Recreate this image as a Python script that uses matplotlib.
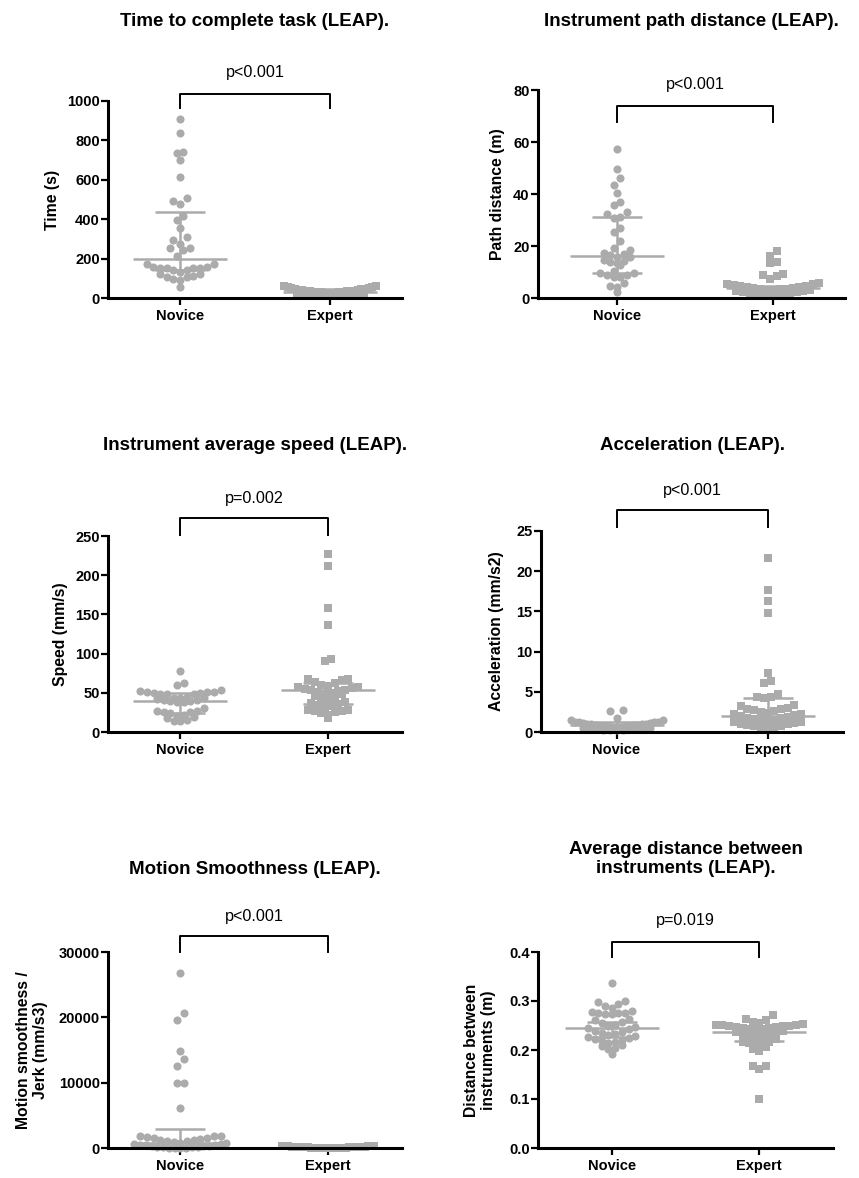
import numpy as np
import matplotlib.pyplot as plt
from matplotlib.transforms import blended_transform_factory

plt.rcParams['font.family'] = ['Liberation Sans', 'DejaVu Sans']

W, H = 859, 1178
GREY = '#ababab'

groups = ['Novice', 'Expert']

# --- time to complete task (s)
time_novice = [908, 840, 742, 738, 700, 616, 506, 491, 476, 418, 395, 357, 310, 295,
               274, 252, 252, 246, 215, 171, 171, 159, 159, 154, 154, 151, 151, 144,
               144, 134, 120, 120, 112, 108, 108, 95, 91, 57]
time_expert = [62, 60, 57, 55, 52, 50, 48, 46, 44, 42, 40, 39, 37, 36, 35, 34, 33, 32,
               31, 30, 29, 28, 27, 26, 25, 24, 23, 22, 21, 20, 19, 18, 17, 15, 14, 12, 10]
time_med = [196, 32]
time_q1 = [140, 22]
time_q3 = [435, 45]

# --- path distance (m)
path_novice = [57.5, 49.6, 46.3, 43.5, 40.3, 36.8, 35.8, 33.0, 32.2, 31.0, 30.8, 26.8,
               25.5, 22.0, 19.4, 18.5, 17.2, 16.8, 16.5, 15.9, 15.6, 14.6, 14.2, 14.0,
               13.6, 12.7, 10.4, 9.5, 9.5, 9.0, 8.8, 8.2, 8.0, 5.6, 4.7, 4.4, 2.4]
path_expert = [18.1, 16.3, 13.8, 13.6, 9.2, 8.8, 8.6, 7.2, 5.8, 5.5, 5.2, 5.0, 4.8, 4.6,
               4.4, 4.2, 4.0, 3.8, 3.6, 3.5, 3.4, 3.2, 3.0, 2.9, 2.8, 2.6, 2.4, 2.2, 2.0,
               1.8, 1.6, 1.4, 1.2, 1.0, 0.8]
path_med = [16.2, 3.7]
path_q1 = [9.7, 2.2]
path_q3 = [31.3, 4.8]

# --- average speed (mm/s)
speed_novice = [77.8, 62.9, 60.0, 53.0, 52.0, 51.5, 51.0, 50.5, 50.0, 49.5, 49.0, 48.5,
                48.0, 45.0, 44.0, 43.5, 43.0, 42.5, 41.0, 40.5, 40.0, 39.0, 38.5, 38.0,
                30.2, 27.0, 26.5, 26.0, 25.5, 24.5, 22.0, 21.0, 19.6, 17.5, 15.5, 14.0, 14.0]
speed_expert = [226.6, 211.7, 157.8, 136.5, 93.1, 91.0, 68, 67, 66, 64, 62, 60, 59, 58,
                57, 56, 55, 54, 53, 52, 51, 50, 49, 48, 46, 44, 42, 40, 38, 37, 36, 35,
                33, 32, 28, 28, 27, 27, 26, 24, 22, 17.5]
speed_med = [39.5, 54]
speed_q1 = [23.8, 36]
speed_q3 = [50, 62]

# --- acceleration (mm/s2)
acc_novice = [2.7, 2.6, 1.8, 1.5, 1.5, 1.3, 1.3, 1.2, 1.2, 1.1, 1.1, 1.05, 1.0, 1.0,
              0.95, 0.9, 0.9, 0.85, 0.8, 0.8, 0.75, 0.7, 0.7, 0.65, 0.6, 0.6, 0.55, 0.5,
              0.5, 0.45, 0.4, 0.4, 0.35, 0.3, 0.3, 0.25, 0.2]
acc_expert = [21.6, 17.6, 16.3, 14.8, 7.4, 6.3, 6.1, 4.7, 4.3, 4.3, 4.2, 3.3, 3.2, 3.0,
              2.9, 2.8, 2.7, 2.6, 2.5, 2.4, 2.3, 2.2, 2.1, 2.0, 1.9, 1.8, 1.7, 1.6, 1.5,
              1.45, 1.4, 1.3, 1.2, 1.1, 1.0, 0.95, 0.9, 0.8, 0.7, 0.6, 0.5, 0.4]
acc_med = [0.87, 2.0]
acc_q1 = [0.5, 1.1]
acc_q3 = [1.2, 4.2]

# --- jerk (mm/s3)
jerk_novice = [26740, 20610, 19590, 14900, 13620, 12600, 9950, 9900, 6170, 1900, 1880,
               1800, 1700, 1600, 1500, 1400, 1300, 1200, 1100, 1000, 900, 820, 740, 660,
               590, 520, 460, 400, 350, 300, 250, 210, 170, 130, 100, 70, 45, 25, 10]
jerk_expert = [350, 320, 300, 280, 260, 240, 220, 200, 185, 170, 155, 140, 130, 120, 110,
               100, 90, 80, 70, 60, 50, 45, 40, 35, 30, 25, 20, 15, 10, 5]
jerk_med = [720, 100]
jerk_q1 = [150, 40]
jerk_q3 = [2860, 220]

# --- distance between instruments (m)
dist_novice = [0.336, 0.300, 0.297, 0.293, 0.290, 0.286, 0.280, 0.278, 0.276, 0.275,
               0.274, 0.275, 0.273, 0.263, 0.262, 0.258, 0.256, 0.252, 0.249, 0.246,
               0.244, 0.242, 0.238, 0.236, 0.235, 0.232, 0.231, 0.229, 0.226, 0.224,
               0.222, 0.221, 0.219, 0.217, 0.214, 0.210, 0.208, 0.204, 0.202, 0.191]
dist_expert = [0.271, 0.263, 0.262, 0.258, 0.256, 0.254, 0.252, 0.252, 0.251, 0.250,
               0.249, 0.248, 0.247, 0.246, 0.245, 0.244, 0.243, 0.242, 0.240, 0.238,
               0.236, 0.234, 0.232, 0.230, 0.228, 0.226, 0.224, 0.222, 0.217, 0.216,
               0.214, 0.212, 0.208, 0.206, 0.203, 0.198, 0.168, 0.167, 0.161, 0.101]
dist_med = [0.244, 0.236]
dist_q1 = [0.227, 0.218]
dist_q3 = [0.258, 0.247]


def spread(vals, px_per_y, px_per_x, row_px=7.5, step_px=6.7, max_px=92):
    # prism-like rows: group from the top, spread each row sideways
    vals = np.asarray(vals, float)
    order = np.argsort(-vals)
    off = np.zeros(len(vals))
    rows, cur, start = [], [], None
    for i in order:
        p = vals[i] * px_per_y
        if start is None or start - p < row_px:
            if start is None:
                start = p
            cur.append(i)
        else:
            rows.append(cur)
            cur, start = [i], p
    rows.append(cur)
    for idx in rows:
        idx = np.array(idx)
        idx = idx[np.argsort(vals[idx], kind='stable')]
        n = len(idx)
        step = step_px if n < 2 else min(step_px, max_px / (n - 1))
        slots = (np.arange(n) - (n - 1) / 2) * step
        slots = slots[np.argsort(np.abs(slots), kind='stable')]
        off[idx] = slots / px_per_x
    return off


panels = [
    dict(rect=(108, 101, 402, 298), xlim=(-0.48, 1.48), ylim=1000, step=200,
         data=(time_novice, time_expert), med=time_med, q1=time_q1, q3=time_q3,
         title='Time to complete task (LEAP).', title_y=21, ylabel='Time (s)', ylab_x=53,
         p='p<0.001', p_y=73, br=(94, 108), fmt='{:.0f}'),
    dict(rect=(538, 90, 845, 298), xlim=(-0.506, 1.46), ylim=80, step=20,
         data=(path_novice, path_expert), med=path_med, q1=path_q1, q3=path_q3,
         title='Instrument path distance (LEAP).', title_y=22, ylabel='Path distance (m)',
         ylab_x=497, p='p<0.001', p_y=85, br=(106, 122), fmt='{:.0f}'),
    dict(rect=(108, 536, 402, 732), xlim=(-0.49, 1.5), ylim=250, step=50,
         data=(speed_novice, speed_expert), med=speed_med, q1=speed_q1, q3=speed_q3,
         title='Instrument average speed (LEAP).', title_y=445, ylabel='Speed (mm/s)',
         ylab_x=61, p='p=0.002', p_y=498, br=(518, 535), fmt='{:.0f}'),
    dict(rect=(541, 531, 843, 732), xlim=(-0.5, 1.5), ylim=25, step=5,
         data=(acc_novice, acc_expert), med=acc_med, q1=acc_q1, q3=acc_q3,
         title='Acceleration (LEAP).', title_y=445, ylabel='Acceleration (mm/s2)',
         ylab_x=496, p='p<0.001', p_y=490, br=(510, 527), fmt='{:.0f}'),
    dict(rect=(108, 952, 402, 1148), xlim=(-0.49, 1.5), ylim=30000, step=10000,
         data=(jerk_novice, jerk_expert), med=jerk_med, q1=jerk_q1, q3=jerk_q3,
         title='Motion Smoothness (LEAP).', title_y=870,
         ylabel='Motion smoothness /\nJerk (mm/s3)', ylab_x=32,
         p='p<0.001', p_y=916, br=(936, 952), fmt='{:.0f}'),
    dict(rect=(538, 952, 833, 1148), xlim=(-0.5, 1.5), ylim=0.4, step=0.1,
         data=(dist_novice, dist_expert), med=dist_med, q1=dist_q1, q3=dist_q3,
         title='Average distance between\ninstruments (LEAP).', title_y=859,
         ylabel='Distance between\ninstruments (m)', ylab_x=480,
         p='p=0.019', p_y=920, br=(942, 957), fmt='{:.1f}'),
]

fig = plt.figure(figsize=(W / 100, H / 100), dpi=100)

for pn in panels:
    x0, y0, x1, y1 = pn['rect']
    ax = fig.add_axes([x0 / W, 1 - y1 / H, (x1 - x0) / W, (y1 - y0) / H])
    ax.set_xlim(*pn['xlim'])
    ax.set_ylim(0, pn['ylim'])
    px_y = (y1 - y0) / pn['ylim']
    px_x = (x1 - x0) / (pn['xlim'][1] - pn['xlim'][0])

    for g, (vals, mk, ms) in enumerate(zip(pn['data'], ['o', 's'], [34, 30])):
        off = spread(vals, px_y, px_x)
        ax.scatter(g + off, vals, s=ms, marker=mk, color=GREY, linewidths=0,
                   clip_on=False, zorder=3)
        # median with interquartile range
        ax.hlines(pn['med'][g], g - 47 / px_x, g + 47 / px_x, color=GREY, lw=1.8, zorder=4)
        ax.hlines([pn['q1'][g], pn['q3'][g]], g - 25 / px_x, g + 25 / px_x,
                  color=GREY, lw=1.8, zorder=4)
        ax.vlines(g, pn['q1'][g], pn['q3'][g], color=GREY, lw=1.8, zorder=4)

    ax.spines['top'].set_visible(False)
    ax.spines['right'].set_visible(False)
    for side in ['left', 'bottom']:
        ax.spines[side].set_linewidth(2.2)
        ax.spines[side].set_zorder(5)
    ticks = np.arange(0, pn['ylim'] + pn['step'] / 2, pn['step'])
    ax.set_yticks(ticks)
    ax.set_yticklabels([pn['fmt'].format(t) for t in ticks])
    ax.set_xticks([0, 1])
    ax.set_xticklabels(groups)
    ax.tick_params(axis='y', length=5, width=1.6, pad=1, labelsize=10.5)
    ax.tick_params(axis='x', length=5, width=1.6, pad=3, labelsize=10.5)
    for lab in ax.get_xticklabels() + ax.get_yticklabels():
        lab.set_fontweight('bold')

    cx = (x0 + x1) / 2 / W
    fig.text(cx, 1 - pn['title_y'] / H, pn['title'], ha='center', va='center',
             fontsize=13.5, fontweight='bold', linespacing=1.2)
    fig.text(pn['ylab_x'] / W, 1 - (y0 + y1) / 2 / H, pn['ylabel'], rotation=90,
             ha='center', va='center', fontsize=11.3, fontweight='bold',
             multialignment='center', linespacing=1.15)

    tr = blended_transform_factory(ax.transData, fig.transFigure)
    top, leg = 1 - pn['br'][0] / H, 1 - pn['br'][1] / H
    ax.plot([0, 0, 1, 1], [leg, top, top, leg], color='black', lw=1.4,
            transform=tr, clip_on=False)
    ax.text(0.5, 1 - pn['p_y'] / H, pn['p'], transform=tr, ha='center', va='center',
            fontsize=11.6)

fig.savefig('out.png', dpi=100)
